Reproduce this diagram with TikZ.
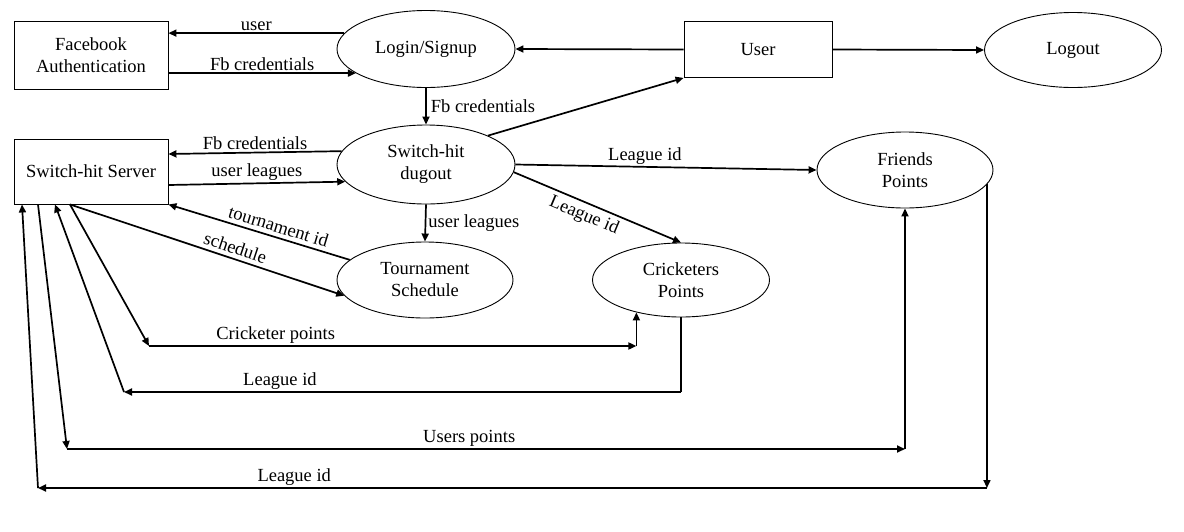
\documentclass[tikz,border=0pt]{standalone}
\usepackage{fontspec}
\setmainfont{Liberation Serif}
\usetikzlibrary{shapes.geometric,arrows.meta,calc}
\begin{document}
\begin{tikzpicture}[x=1pt,y=-1pt,
  font=\fontsize{18.5}{22}\selectfont,
  box/.style={draw,line width=0.9pt,rectangle,inner sep=0pt,align=center},
  oval/.style={draw,line width=0.9pt,ellipse,inner sep=0pt,align=center},
  flow/.style={line width=1.7pt,-{Triangle[length=8pt,width=7pt]}},
  plain/.style={line width=1.7pt},
  lbl/.style={inner sep=2pt},
  slbl/.style={inner sep=4pt,sloped}]
\useasboundingbox (0,0) rectangle (1184,531);
\fill[white] (0,0) rectangle (1184,531);

% nodes
\node[box,minimum width=154pt,minimum height=68pt] (fb) at (91,55.5) {Facebook\\Authentication};
\node[oval,minimum width=178pt,minimum height=77pt] (login) at (426,49) {Login/Signup};
\node[box,minimum width=148pt,minimum height=56pt] (user) at (758,49.5) {User};
\node[oval,minimum width=177pt,minimum height=75pt] (logout) at (1073,50) {Logout};
\node[box,minimum width=154pt,minimum height=65pt] (server) at (91,171.5) {Switch-hit Server};
\node[oval,minimum width=178pt,minimum height=79pt] (dugout) at (426,164.5) {Switch-hit\\dugout};
\node[oval,minimum width=176pt,minimum height=76pt] (tour) at (425,280) {Tournament\\Schedule};
\node[oval,minimum width=177pt,minimum height=74pt] (crick) at (681,280) {Cricketers\\Points};
\node[oval,minimum width=176pt,minimum height=76pt] (friends) at (905,170) {Friends\\Points};

% top connectors
\draw[flow] (login.169) -- (login.169 -| fb.east) node[lbl,midway,above]{user};
\draw[flow] (login.199 -| fb.east) -- (login.199) node[lbl,midway,above]{Fb credentials};
\draw[flow] (login.south) -- (dugout.north) node[lbl,midway,right=2pt]{Fb credentials};
\draw[flow] (user.west) -- (login.east);
\draw[flow] (user.east) -- (logout.west);
\draw[flow] (dugout.25) -- (user.south west);

% dugout <-> server
\draw[flow] (dugout.171) -- ([yshift=17.5pt]server.east) node[lbl,midway,above]{Fb credentials};
\draw[flow] ([yshift=-13.5pt]server.east) -- (dugout.192) node[lbl,midway,above]{user leagues};
\draw[flow] (dugout.south) -- (tour.north) node[lbl,midway,right]{user leagues};

% tournament
\draw[flow] (tour.165) -- (server.south east) node[slbl,pos=0.41,above]{tournament id};
\draw[flow] ([xshift=-21pt]server.south) -- (tour.191) node[slbl,pos=0.59,above]{schedule};

% dugout -> points
\draw[flow] (dugout.east) -- (friends.west) node[lbl,pos=0.43,above]{League id};
\draw[flow] (dugout.355) -- (crick.north) node[slbl,pos=0.45,below]{League id};

% cricketer points
\coordinate (cpA) at (149,346);
\coordinate (cpB) at (crick.216 |- 0,346);
\draw[flow] ([xshift=-21pt]server.south) -- (cpA);
\draw[flow] (cpA) -- (cpB) node[lbl,pos=0.26,above]{Cricketer points};
\draw[flow] (cpB) -- (crick.216);

% league id (cricketers)
\coordinate (lcA) at (crick.south |- 0,392);
\coordinate (lcB) at (124,392);
\draw[plain] (crick.south) -- (lcA);
\draw[flow] (lcA) -- (lcB) node[lbl,pos=0.72,above]{League id};
\draw[flow] (lcB) -- ([xshift=-36pt]server.south);

% users points
\coordinate (upA) at (67,449);
\coordinate (upB) at (friends.south |- 0,449);
\draw[flow] ([xshift=-53pt]server.south) -- (upA);
\draw[flow] (upA) -- (upB) node[lbl,pos=0.48,above]{Users points};
\draw[flow] (upB) -- (friends.south);

% league id (friends)
\coordinate (lbA) at (friends.350 |- 0,488);
\coordinate (lbB) at (38,488);
\draw[flow] (friends.350) -- (lbA);
\draw[flow] (lbA) -- (lbB) node[lbl,pos=0.73,above]{League id};
\draw[flow] (lbB) -- ([xshift=-69pt]server.south);
\end{tikzpicture}
\end{document}
